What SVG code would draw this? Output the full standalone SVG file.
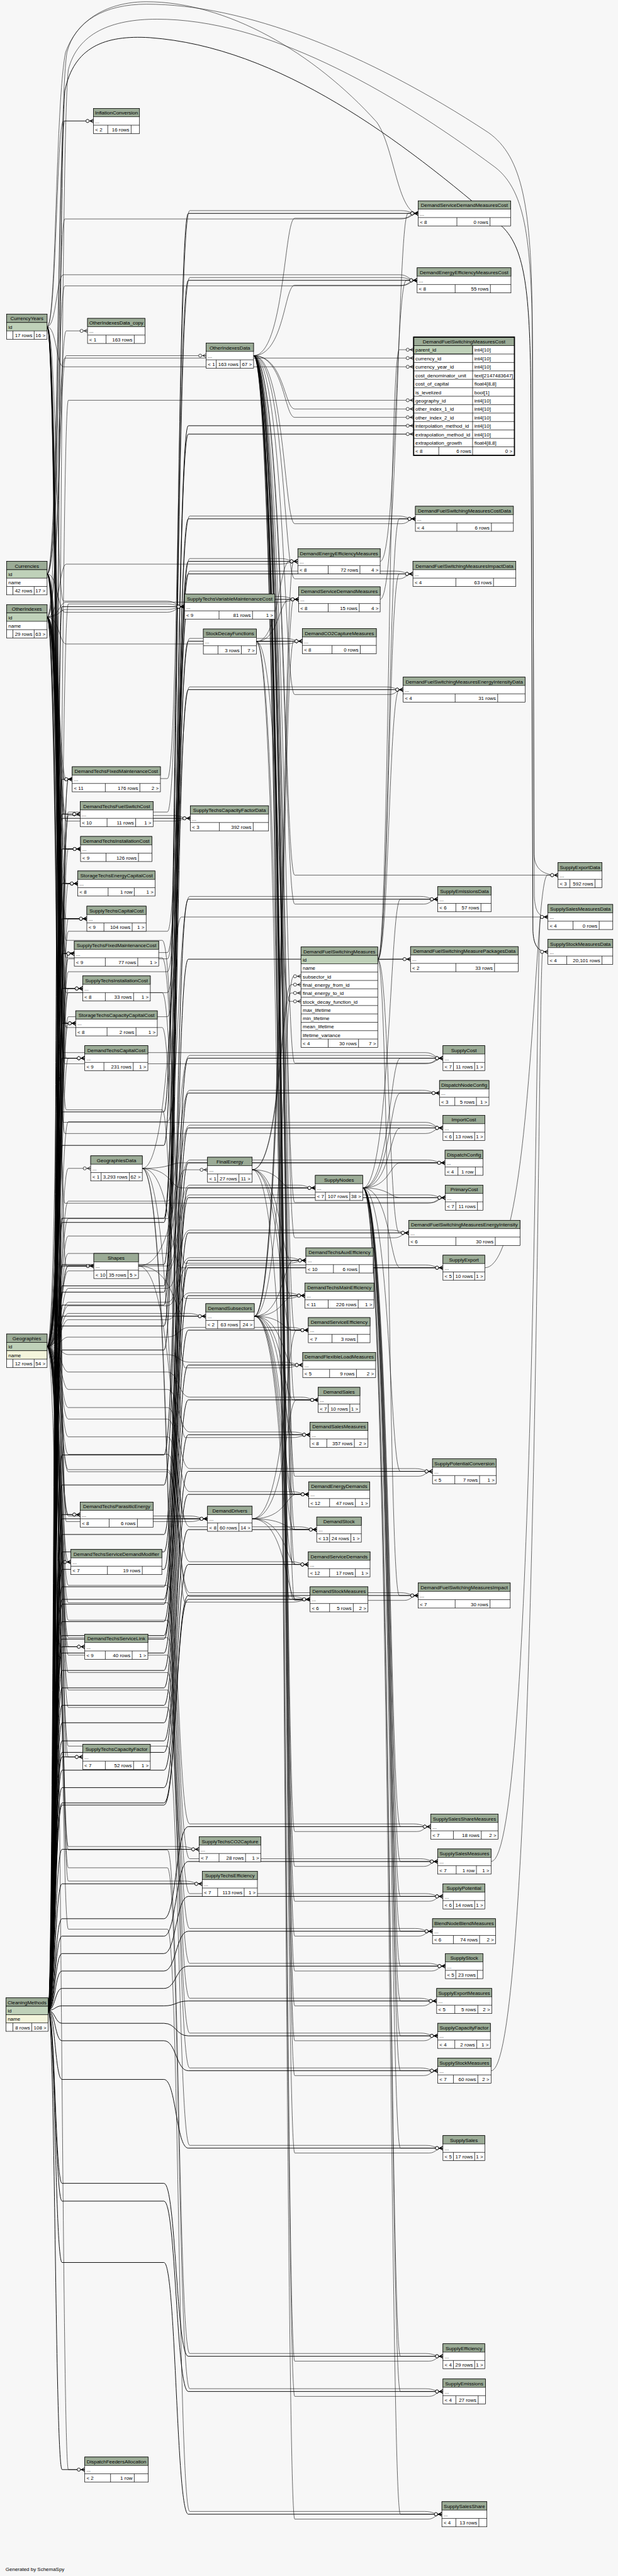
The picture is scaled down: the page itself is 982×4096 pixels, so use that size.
<svg xmlns="http://www.w3.org/2000/svg" width="982" height="4096" viewBox="0 0 982 4096">
<defs>
<style>
.e{fill:none;stroke:#000;stroke-width:1.05;marker-end:url(#cf)}
.e2{stroke-width:1.7}
.b{fill:#fff;stroke:#000;stroke-width:1.3}
.h{fill:#9bab96;stroke:#000;stroke-width:1.3}
.k{fill:#bfd1b9;stroke:#000;stroke-width:1.3}
.y{fill:#f4f5dc;stroke:#000;stroke-width:1.3}
.l{fill:none;stroke:#000;stroke-width:1.3}
text{font-family:"Liberation Sans",Arial,Helvetica,sans-serif;font-size:14.4px;fill:#000}
.c{text-anchor:middle}
.r{text-anchor:end}
</style>
<marker id="cf" markerUnits="userSpaceOnUse" viewBox="0 0 26 16" markerWidth="26" markerHeight="16" refX="26" refY="8" orient="auto" overflow="visible"><path d="M16 8L26 2.5M16 8H26M16 8L26 13.5" fill="none" stroke="#000" stroke-width="1.3"/><circle cx="9" cy="8" r="4.5" fill="#fff" stroke="#000" stroke-width="1.3"/></marker>
</defs>
<rect width="982" height="4096" fill="#f7f7f7"/>
<g transform="scale(0.5542 0.5544)">
<g id="connectors">
<g class="e e2">
<path d="M138 5766C158 5766 158 3189 178 3189H470C505 3189 505 612 540 612H1199"/>
<path d="M138 5766C158 5766 158 3285 178 3285H470C505 3285 505 804 540 804H1196"/>
<path d="M138 5766C158 5766 158 3494 178 3494H470C505 3494 505 1221 540 1221H1186"/>
<path d="M138 5766C158 5766 158 3506 178 3506H470C505 3506 505 1245 540 1245H1186"/>
<path d="M138 5766C158 5766 158 1740 178 1740H529"/>
<path d="M138 5766C158 5766 158 3688 178 3688H470C505 3688 505 1610 540 1610H853"/>
<path d="M138 5766C158 5766 158 3743 178 3743H470C505 3743 505 1719 540 1719H856"/>
<path d="M138 5766C158 5766 158 3803 178 3803H470C505 3803 505 1839 540 1839H867"/>
<path d="M138 5766C158 5766 158 3627 178 3627H470C505 3627 505 1488 540 1488H1191"/>
<path d="M138 5766C158 5766 158 3706 178 3706H470C505 3706 505 1646 540 1646H1184"/>
<path d="M138 5766C158 5766 158 3872 178 3872H470C505 3872 505 1978 540 1978H1156"/>
<path d="M138 5766C158 5766 158 2235 178 2235H207"/>
<path d="M138 5766C158 5766 158 2335 178 2335H230"/>
<path d="M138 5766C158 5766 158 2435 178 2435H231"/>
<path d="M138 5766C158 5766 158 2347 178 2347H546"/>
<path d="M138 5766C158 5766 158 2534 178 2534H223"/>
<path d="M138 5766C158 5766 158 2635 178 2635H249"/>
<path d="M138 5766C158 5766 158 2735 178 2735H213"/>
<path d="M138 5766C158 5766 158 2835 178 2835H237"/>
<path d="M138 5766C158 5766 158 2935 178 2935H217"/>
<path d="M138 5766C158 5766 158 3035 178 3035H243"/>
<path d="M138 5766C158 5766 158 3631 178 3631H269"/>
<path d="M138 5766C158 5766 158 4173 178 4173H470C505 4173 505 2579 540 2579H1255"/>
<path d="M138 5766C158 5766 158 4259 178 4259H470C505 4259 505 2751 540 2751H1177"/>
<path d="M138 5766C158 5766 158 4401 178 4401H470C505 4401 505 3035 540 3035H1270"/>
<path d="M138 5766C158 5766 158 4451 178 4451H470C505 4451 505 3135 540 3135H1260"/>
<path d="M138 5766C158 5766 158 4501 178 4501H470C505 4501 505 3235 540 3235H1270"/>
<path d="M138 5766C158 5766 158 4551 178 4551H470C505 4551 505 3335 540 3335H1276"/>
<path d="M138 5766C158 5766 158 4601 178 4601H470C505 4601 505 3435 540 3435H1277"/>
<path d="M138 5766C158 5766 158 4587 178 4587H470C505 4587 505 3407 540 3407H904"/>
<path d="M138 5766C158 5766 158 4651 178 4651H470C505 4651 505 3536 540 3536H1172"/>
<path d="M138 5766C158 5766 158 4701 178 4701H470C505 4701 505 3636 540 3636H1270"/>
<path d="M138 5766C158 5766 158 4691 178 4691H470C505 4691 505 3615 540 3615H877"/>
<path d="M138 5766C158 5766 158 4741 178 4741H470C505 4741 505 3716 540 3716H874"/>
<path d="M138 5766C158 5766 158 3775 178 3775H590"/>
<path d="M138 5766C158 5766 158 4791 178 4791H470C505 4791 505 3815 540 3815H884"/>
<path d="M138 5766C158 5766 158 4841 178 4841H470C505 4841 505 3915 540 3915H868"/>
<path d="M138 5766C158 5766 158 4891 178 4891H470C505 4891 505 4015 540 4015H912"/>
<path d="M138 5766C158 5766 158 4941 178 4941H470C505 4941 505 4115 540 4115H889"/>
<path d="M138 5766C158 5766 158 4993 178 4993H470C505 4993 505 4220 540 4220H1240"/>
<path d="M138 5766C158 5766 158 5026 178 5026H470C505 5026 505 4286 540 4286H885"/>
<path d="M138 5766C158 5766 158 4344 178 4344H230"/>
<path d="M138 5766C158 5766 158 4356 178 4356H595"/>
<path d="M138 5766C158 5766 158 5077 178 5077H470C505 5077 505 4387 540 4387H908"/>
<path d="M138 5766C158 5766 158 4480 178 4480H203"/>
<path d="M138 5766C158 5766 158 5127 178 5127H470C505 5127 505 4487 540 4487H884"/>
<path d="M138 5766C158 5766 158 5177 178 5177H470C505 5177 505 4587 540 4587H889"/>
<path d="M138 5766C158 5766 158 5171 178 5171H470C505 5171 505 4576 540 4576H1199"/>
<path d="M138 5766C158 5766 158 4723 178 4723H243"/>
<path d="M138 5766C158 5766 158 5039 178 5039H237"/>
<path d="M138 5766C158 5766 158 5503 178 5503H470C505 5503 505 5239 540 5239H1235"/>
<path d="M138 5766C158 5766 158 5304 178 5304H571"/>
<path d="M138 5766C158 5766 158 5553 178 5553H470C505 5553 505 5339 540 5339H1255"/>
<path d="M138 5766C158 5766 158 5403 178 5403H580"/>
<path d="M138 5766C158 5766 158 5603 178 5603H470C505 5603 505 5439 540 5439H1270"/>
<path d="M138 5766C158 5766 158 5653 178 5653H470C505 5653 505 5539 540 5539H1240"/>
<path d="M138 5766C158 5766 158 5703 178 5703H470C505 5703 505 5639 540 5639H1277"/>
<path d="M138 5766C158 5766 158 5753 178 5753H470C505 5753 505 5739 540 5739H1252"/>
<path d="M138 5766C158 5766 158 5803 178 5803H470C505 5803 505 5839 540 5839H1255"/>
<path d="M138 5766C158 5766 158 5853 178 5853H470C505 5853 505 5939 540 5939H1255"/>
<path d="M138 5766C158 5766 158 5964 178 5964H470C505 5964 505 6161 540 6161H1270"/>
<path d="M138 5766C158 5766 158 6262 178 6262H470C505 6262 505 6758 540 6758H1270"/>
<path d="M138 5766C158 5766 158 6313 178 6313H470C505 6313 505 6859 540 6859H1270"/>
<path d="M138 5766C158 5766 158 6489 178 6489H470C505 6489 505 7211 540 7211H1267"/>
<path d="M138 5766C158 5766 158 7083 178 7083H243"/>
<path d="M138 5766C158 5766 160 520 186 260C212 135 300 100 430 108C800 135 1150 400 1440 650C1508 715 1518 850 1522 1100L1528 2670C1530 2715 1545 2730 1571 2730"/>
</g>
<g class="e">
<path d="M135 937C162 937 158 300 188 150C228 40 330 5 420 5C650 5 900 150 1080 350C1130 420 1140 612 1199 612"/>
<path d="M135 937C162 937 162 347 182 347H268"/>
<path d="M135 937C162 937 162 788 182 788H1146C1171 788 1171 804 1196 804"/>
<path d="M135 937C162 937 162 1052 182 1052H1186"/>
<path d="M135 937C162 937 162 1724 182 1724H479C504 1724 504 1740 529 1740"/>
<path d="M135 937C162 937 162 2235 182 2235H207"/>
<path d="M135 937C162 937 162 2335 182 2335H230"/>
<path d="M135 937C162 937 162 2435 182 2435H231"/>
<path d="M135 937C162 937 162 2534 182 2534H223"/>
<path d="M135 937C162 937 162 2635 182 2635H249"/>
<path d="M135 937C162 937 162 2735 182 2735H213"/>
<path d="M135 937C162 937 162 2835 182 2835H237"/>
<path d="M135 937C162 937 162 2935 182 2935H217"/>
<path d="M135 937C162 937 162 3035 182 3035H243"/>
<path d="M135 937C162 937 162 3019 182 3019H1220C1245 3019 1245 3035 1270 3035"/>
<path d="M135 937C162 937 162 3219 182 3219H1220C1245 3219 1245 3235 1270 3235"/>
<path d="M135 1646C166 1646 166 347 186 347H268"/>
<path d="M135 1646C166 1646 166 628 186 628H1149C1174 628 1174 612 1199 612"/>
<path d="M135 1646C166 1646 166 820 186 820H1146C1171 820 1171 804 1196 804"/>
<path d="M135 1646C166 1646 166 1027 186 1027H1186"/>
<path d="M135 1646C166 1646 166 1756 186 1756H479C504 1756 504 1740 529 1740"/>
<path d="M135 1646C166 1646 166 2235 186 2235H207"/>
<path d="M135 1646C166 1646 166 2335 186 2335H230"/>
<path d="M135 1646C166 1646 166 2435 186 2435H231"/>
<path d="M135 1646C166 1646 166 2534 186 2534H223"/>
<path d="M135 1646C166 1646 166 2635 186 2635H249"/>
<path d="M135 1646C166 1646 166 2735 186 2735H213"/>
<path d="M135 1646C166 1646 166 2835 186 2835H237"/>
<path d="M135 1646C166 1646 166 2935 186 2935H217"/>
<path d="M135 1646C166 1646 166 3035 186 3035H243"/>
<path d="M135 1646C166 1646 166 3051 186 3051H1220C1245 3051 1245 3035 1270 3035"/>
<path d="M135 1646C166 1646 166 3251 186 3251H1220C1245 3251 1245 3235 1270 3235"/>
<path d="M135 1646C166 1646 166 3451 186 3451H1227C1252 3451 1252 3435 1277 3435"/>
<path d="M135 1770C170 1770 170 949 190 949H251"/>
<path d="M135 1770C170 1770 170 1020 190 1020H591"/>
<path d="M135 1770C170 1770 170 1748 190 1748H479C504 1748 504 1740 529 1740"/>
<path d="M135 1770C170 1770 170 1618 190 1618H803C828 1618 828 1610 853 1610"/>
<path d="M135 1770C170 1770 170 1727 190 1727H806C831 1727 831 1719 856 1719"/>
<path d="M135 1770C170 1770 170 1847 190 1847H817C842 1847 842 1839 867 1839"/>
<path d="M135 1770C170 1770 170 2235 190 2235H207"/>
<path d="M135 1770C170 1770 170 2335 190 2335H230"/>
<path d="M135 1770C170 1770 170 2435 190 2435H231"/>
<path d="M135 1770C170 1770 170 2355 190 2355H496C521 2355 521 2347 546 2347"/>
<path d="M135 1770C170 1770 170 2534 190 2534H223"/>
<path d="M135 1770C170 1770 170 2635 190 2635H249"/>
<path d="M135 1770C170 1770 170 2735 190 2735H213"/>
<path d="M135 1770C170 1770 170 2835 190 2835H237"/>
<path d="M135 1770C170 1770 170 2935 190 2935H217"/>
<path d="M135 1770C170 1770 170 3035 190 3035H243"/>
<path d="M135 1770C170 1770 170 3631 190 3631H269"/>
<path d="M135 1770C170 1770 170 2697 190 2697H465C498 2697 498 3623 531 3623H827C852 3623 852 3615 877 3615"/>
<path d="M135 1770C170 1770 170 2747 190 2747H465C498 2747 498 3724 531 3724H824C849 3724 849 3716 874 3716"/>
<path d="M135 1770C170 1770 170 2847 190 2847H465C498 2847 498 3923 531 3923H818C843 3923 843 3915 868 3915"/>
<path d="M135 1770C170 1770 170 2947 190 2947H465C498 2947 498 4123 531 4123H839C864 4123 864 4115 889 4115"/>
<path d="M135 1770C170 1770 170 4344 190 4344H230"/>
<path d="M135 1770C170 1770 170 4364 190 4364H545C570 4364 570 4356 595 4356"/>
<path d="M135 1770C170 1770 170 4480 190 4480H203"/>
<path d="M135 1770C170 1770 170 3183 190 3183H465C498 3183 498 4595 531 4595H839C864 4595 864 4587 889 4587"/>
<path d="M135 1770C170 1770 170 4723 190 4723H243"/>
<path d="M135 1770C170 1770 170 5039 190 5039H237"/>
<path d="M135 1770C170 1770 164 320 192 150C215 60 300 12 420 12C700 12 1050 150 1400 380C1500 450 1522 600 1526 900L1532 2570C1534 2615 1545 2630 1571 2630"/>
<path d="M135 3862C176 3862 176 2233 196 2233H480C512 2233 512 604 544 604H1149C1174 604 1174 612 1199 612"/>
<path d="M135 3862C176 3862 176 2329 196 2329H480C512 2329 512 796 544 796H1146C1171 796 1171 804 1196 804"/>
<path d="M135 3862C176 3862 176 1148 196 1148H1186"/>
<path d="M135 3862C176 3862 176 1732 196 1732H479C504 1732 504 1740 529 1740"/>
<path d="M135 3862C176 3862 176 2732 196 2732H480C512 2732 512 1602 544 1602H803C828 1602 828 1610 853 1610"/>
<path d="M135 3862C176 3862 176 2787 196 2787H480C512 2787 512 1711 544 1711H806C831 1711 831 1719 856 1719"/>
<path d="M135 3862C176 3862 176 2847 196 2847H480C512 2847 512 1831 544 1831H817C842 1831 842 1839 867 1839"/>
<path d="M135 3862C176 3862 176 2671 196 2671H480C512 2671 512 1480 544 1480H1141C1166 1480 1166 1488 1191 1488"/>
<path d="M135 3862C176 3862 176 2750 196 2750H480C512 2750 512 1638 544 1638H1134C1159 1638 1159 1646 1184 1646"/>
<path d="M135 3862C176 3862 176 2916 196 2916H480C512 2916 512 1970 544 1970H1106C1131 1970 1131 1978 1156 1978"/>
<path d="M135 3862C176 3862 176 2235 196 2235H207"/>
<path d="M135 3862C176 3862 176 2335 196 2335H230"/>
<path d="M135 3862C176 3862 176 2435 196 2435H231"/>
<path d="M135 3862C176 3862 176 2339 196 2339H496C521 2339 521 2347 546 2347"/>
<path d="M135 3862C176 3862 176 2534 196 2534H223"/>
<path d="M135 3862C176 3862 176 2635 196 2635H249"/>
<path d="M135 3862C176 3862 176 2735 196 2735H213"/>
<path d="M135 3862C176 3862 176 2835 196 2835H237"/>
<path d="M135 3862C176 3862 176 2935 196 2935H217"/>
<path d="M135 3862C176 3862 176 3035 196 3035H243"/>
<path d="M135 3862C176 3862 176 3351 196 3351H260"/>
<path d="M135 3862C176 3862 176 3631 196 3631H269"/>
<path d="M135 3862C176 3862 176 3217 196 3217H480C512 3217 512 2571 544 2571H1205C1230 2571 1230 2579 1255 2579"/>
<path d="M135 3862C176 3862 176 3445 196 3445H480C512 3445 512 3027 544 3027H1220C1245 3027 1245 3035 1270 3035"/>
<path d="M135 3862C176 3862 176 3495 196 3495H480C512 3495 512 3127 544 3127H1210C1235 3127 1235 3135 1260 3135"/>
<path d="M135 3862C176 3862 176 3545 196 3545H480C512 3545 512 3227 544 3227H1220C1245 3227 1245 3235 1270 3235"/>
<path d="M135 3862C176 3862 176 3595 196 3595H480C512 3595 512 3327 544 3327H1226C1251 3327 1251 3335 1276 3335"/>
<path d="M135 3862C176 3862 176 3645 196 3645H480C512 3645 512 3427 544 3427H1227C1252 3427 1252 3435 1277 3435"/>
<path d="M135 3862C176 3862 176 3631 196 3631H480C512 3631 512 3399 544 3399H854C879 3399 879 3407 904 3407"/>
<path d="M135 3862C176 3862 176 3695 196 3695H480C512 3695 512 3528 544 3528H1122C1147 3528 1147 3536 1172 3536"/>
<path d="M135 3862C176 3862 176 3745 196 3745H480C512 3745 512 3628 544 3628H1220C1245 3628 1245 3636 1270 3636"/>
<path d="M135 3862C176 3862 176 3735 196 3735H480C512 3735 512 3607 544 3607H827C852 3607 852 3615 877 3615"/>
<path d="M135 3862C176 3862 176 3785 196 3785H480C512 3785 512 3708 544 3708H824C849 3708 849 3716 874 3716"/>
<path d="M135 3862C176 3862 176 3767 196 3767H540C565 3767 565 3775 590 3775"/>
<path d="M135 3862C176 3862 176 3835 196 3835H480C512 3835 512 3807 544 3807H834C859 3807 859 3815 884 3815"/>
<path d="M135 3862C176 3862 176 3885 196 3885H480C512 3885 512 3907 544 3907H818C843 3907 843 3915 868 3915"/>
<path d="M135 3862C176 3862 176 3935 196 3935H480C512 3935 512 4007 544 4007H862C887 4007 887 4015 912 4015"/>
<path d="M135 3862C176 3862 176 3985 196 3985H480C512 3985 512 4107 544 4107H839C864 4107 864 4115 889 4115"/>
<path d="M135 3862C176 3862 176 4037 196 4037H480C512 4037 512 4212 544 4212H1190C1215 4212 1215 4220 1240 4220"/>
<path d="M135 3862C176 3862 176 4070 196 4070H480C512 4070 512 4278 544 4278H835C860 4278 860 4286 885 4286"/>
<path d="M135 3862C176 3862 176 4344 196 4344H230"/>
<path d="M135 3862C176 3862 176 4348 196 4348H545C570 4348 570 4356 595 4356"/>
<path d="M135 3862C176 3862 176 4121 196 4121H480C512 4121 512 4379 544 4379H858C883 4379 883 4387 908 4387"/>
<path d="M135 3862C176 3862 176 4480 196 4480H203"/>
<path d="M135 3862C176 3862 176 4171 196 4171H480C512 4171 512 4479 544 4479H834C859 4479 859 4487 884 4487"/>
<path d="M135 3862C176 3862 176 4221 196 4221H480C512 4221 512 4579 544 4579H839C864 4579 864 4587 889 4587"/>
<path d="M135 3862C176 3862 176 4215 196 4215H480C512 4215 512 4568 544 4568H1149C1174 4568 1174 4576 1199 4576"/>
<path d="M135 3862C176 3862 176 4723 196 4723H243"/>
<path d="M135 3862C176 3862 176 5039 196 5039H237"/>
<path d="M135 3862C176 3862 176 4547 196 4547H480C512 4547 512 5231 544 5231H1185C1210 5231 1210 5239 1235 5239"/>
<path d="M135 3862C176 3862 176 5296 196 5296H521C546 5296 546 5304 571 5304"/>
<path d="M135 3862C176 3862 176 4597 196 4597H480C512 4597 512 5331 544 5331H1205C1230 5331 1230 5339 1255 5339"/>
<path d="M135 3862C176 3862 176 5395 196 5395H530C555 5395 555 5403 580 5403"/>
<path d="M135 3862C176 3862 176 4647 196 4647H480C512 4647 512 5431 544 5431H1220C1245 5431 1245 5439 1270 5439"/>
<path d="M135 3862C176 3862 176 4697 196 4697H480C512 4697 512 5531 544 5531H1190C1215 5531 1215 5539 1240 5539"/>
<path d="M135 3862C176 3862 176 4747 196 4747H480C512 4747 512 5631 544 5631H1227C1252 5631 1252 5639 1277 5639"/>
<path d="M135 3862C176 3862 176 4797 196 4797H480C512 4797 512 5731 544 5731H1202C1227 5731 1227 5739 1252 5739"/>
<path d="M135 3862C176 3862 176 4847 196 4847H480C512 4847 512 5831 544 5831H1205C1230 5831 1230 5839 1255 5839"/>
<path d="M135 3862C176 3862 176 4897 196 4897H480C512 4897 512 5931 544 5931H1205C1230 5931 1230 5939 1255 5939"/>
<path d="M135 3862C176 3862 176 5008 196 5008H480C512 5008 512 6153 544 6153H1220C1245 6153 1245 6161 1270 6161"/>
<path d="M135 3862C176 3862 176 5306 196 5306H480C512 5306 512 6750 544 6750H1220C1245 6750 1245 6758 1270 6758"/>
<path d="M135 3862C176 3862 176 5357 196 5357H480C512 5357 512 6851 544 6851H1220C1245 6851 1245 6859 1270 6859"/>
<path d="M135 3862C176 3862 176 5533 196 5533H480C512 5533 512 7203 544 7203H1217C1242 7203 1242 7211 1267 7211"/>
<path d="M135 3862C176 3862 176 7083 196 7083H243"/>
<path d="M135 3862C176 3862 168 420 196 200C222 95 320 55 450 55C760 55 1110 250 1420 480C1510 550 1524 700 1527 1000L1531 2450C1533 2495 1560 2510 1600 2510"/>
<path d="M727 1020C815 1020 815 626 845 626H1159C1179 626 1179 612 1199 612"/>
<path d="M727 1020C815 1020 815 818 845 818H1156C1176 818 1176 804 1196 804"/>
<path d="M727 1020C815 1020 815 1173 845 1173H1186"/>
<path d="M727 1020C815 1020 815 1197 845 1197H1186"/>
<path d="M727 1020C815 1020 815 1502 845 1502H1151C1171 1502 1171 1488 1191 1488"/>
<path d="M727 1020C815 1020 815 1660 845 1660H1144C1164 1660 1164 1646 1184 1646"/>
<path d="M727 1020C815 1020 815 1992 845 1992H1116C1136 1992 1136 1978 1156 1978"/>
<path d="M727 1020C815 1020 815 2593 845 2593H1215C1235 2593 1235 2579 1255 2579"/>
<path d="M727 1020C815 1020 815 3049 845 3049H1230C1250 3049 1250 3035 1270 3035"/>
<path d="M727 1020C815 1020 815 3449 845 3449H1237C1257 3449 1257 3435 1277 3435"/>
<path d="M727 1020C815 1020 815 3550 845 3550H1132C1152 3550 1152 3536 1172 3536"/>
<path d="M727 1020C815 1020 815 3815 845 3815H884"/>
<path d="M727 1020C815 1020 815 4015 845 4015H912"/>
<path d="M727 1020C815 1020 815 4234 845 4234H1200C1220 4234 1220 4220 1240 4220"/>
<path d="M727 1020C815 1020 815 4286 845 4286H885"/>
<path d="M727 1020C815 1020 815 4387 845 4387H908"/>
<path d="M727 1020C815 1020 815 4487 845 4487H884"/>
<path d="M727 1020C815 1020 815 4590 845 4590H1159C1179 4590 1179 4576 1199 4576"/>
<path d="M727 1020C815 1020 815 5253 845 5253H1195C1215 5253 1215 5239 1235 5239"/>
<path d="M727 1020C815 1020 815 5353 845 5353H1215C1235 5353 1235 5339 1255 5339"/>
<path d="M727 1020C815 1020 815 5453 845 5453H1230C1250 5453 1250 5439 1270 5439"/>
<path d="M727 1020C815 1020 815 5553 845 5553H1200C1220 5553 1220 5539 1240 5539"/>
<path d="M727 1020C815 1020 815 5653 845 5653H1237C1257 5653 1257 5639 1277 5639"/>
<path d="M727 1020C815 1020 815 5753 845 5753H1212C1232 5753 1232 5739 1252 5739"/>
<path d="M727 1020C815 1020 815 5853 845 5853H1215C1235 5853 1235 5839 1255 5839"/>
<path d="M727 1020C815 1020 815 5953 845 5953H1215C1235 5953 1235 5939 1255 5939"/>
<path d="M727 1020C815 1020 815 6175 845 6175H1230C1250 6175 1250 6161 1270 6161"/>
<path d="M727 1020C815 1020 815 6772 845 6772H1230C1250 6772 1250 6758 1270 6758"/>
<path d="M727 1020C815 1020 815 6873 845 6873H1230C1250 6873 1250 6859 1270 6859"/>
<path d="M727 1020C815 1020 815 7225 845 7225H1227C1247 7225 1247 7211 1267 7211"/>
<path d="M727 1020C815 1020 815 2510 845 2510H1600"/>
<path d="M408 3351C490 3351 490 3407 520 3407H904"/>
<path d="M408 3351C490 3351 490 3335 520 3335H1276"/>
<path d="M408 3351C490 3351 490 3636 520 3636H1270"/>
<path d="M408 3351C490 3351 490 4356 520 4356H595"/>
<path d="M408 3351C490 3351 490 5304 520 5304H571"/>
<path d="M408 3351C490 3351 490 5403 520 5403H580"/>
<path d="M408 3351C490 3351 490 2630 520 2630H1571"/>
<path d="M723 3355C805 3355 805 2824 835 2824H863"/>
<path d="M723 3355C805 3355 805 2848 835 2848H863"/>
<path d="M723 3355C805 3355 805 3407 835 3407H904"/>
<path d="M723 3355C805 3355 805 3615 835 3615H877"/>
<path d="M723 3355C805 3355 805 3716 835 3716H874"/>
<path d="M723 3355C805 3355 805 3815 835 3815H884"/>
<path d="M723 3355C805 3355 805 4286 835 4286H885"/>
<path d="M397 3631C500 3631 500 3355 530 3355H595"/>
<path d="M397 3631C500 3631 500 3775 530 3775H590"/>
<path d="M397 3631C500 3631 500 4356 530 4356H595"/>
<path d="M735 1840C800 1840 800 1610 830 1610H853"/>
<path d="M735 1840C800 1840 800 1719 830 1719H856"/>
<path d="M735 1840C800 1840 800 1839 830 1839H867"/>
<path d="M735 1840C800 1840 800 2872 830 2872H863"/>
<path d="M735 1840C800 1840 800 4115 830 4115H889"/>
<path d="M735 1840C800 1840 800 4587 830 4587H889"/>
<path d="M729 3775C812 3775 812 2800 842 2800H863"/>
<path d="M729 3775C812 3775 812 1610 842 1610H853"/>
<path d="M729 3775C812 3775 812 1719 842 1719H856"/>
<path d="M729 3775C812 3775 812 1839 842 1839H867"/>
<path d="M729 3775C812 3775 812 3716 842 3716H874"/>
<path d="M729 3775C812 3775 812 3615 842 3615H877"/>
<path d="M729 3775C812 3775 812 3815 842 3815H884"/>
<path d="M729 3775C812 3775 812 3915 842 3915H868"/>
<path d="M729 3775C812 3775 812 4015 842 4015H912"/>
<path d="M729 3775C812 3775 812 4115 842 4115H889"/>
<path d="M729 3775C812 3775 812 4286 842 4286H885"/>
<path d="M729 3775C812 3775 812 4387 842 4387H908"/>
<path d="M729 3775C812 3775 812 4487 842 4487H884"/>
<path d="M729 3775C812 3775 812 4587 842 4587H889"/>
<path d="M723 4356C820 4356 820 4286 850 4286H885"/>
<path d="M723 4356C820 4356 820 4387 850 4387H908"/>
<path d="M723 4356C820 4356 820 4487 850 4487H884"/>
<path d="M723 4356C820 4356 820 4587 850 4587H889"/>
<path d="M723 4356C820 4356 820 4015 850 4015H912"/>
<path d="M723 4356C820 4356 820 3815 850 3815H884"/>
<path d="M1040 3407C1118 3407 1118 2579 1148 2579H1255"/>
<path d="M1040 3407C1118 3407 1118 3035 1148 3035H1270"/>
<path d="M1040 3407C1118 3407 1118 3135 1148 3135H1260"/>
<path d="M1040 3407C1118 3407 1118 3235 1148 3235H1270"/>
<path d="M1040 3407C1118 3407 1118 3335 1148 3335H1276"/>
<path d="M1040 3407C1118 3407 1118 3435 1148 3435H1277"/>
<path d="M1040 3407C1118 3407 1118 3636 1148 3636H1270"/>
<path d="M1040 3407C1118 3407 1118 4220 1148 4220H1240"/>
<path d="M1040 3407C1118 3407 1118 5239 1148 5239H1235"/>
<path d="M1040 3407C1118 3407 1118 5339 1148 5339H1255"/>
<path d="M1040 3407C1118 3407 1118 5439 1148 5439H1270"/>
<path d="M1040 3407C1118 3407 1118 5539 1148 5539H1240"/>
<path d="M1040 3407C1118 3407 1118 5639 1148 5639H1277"/>
<path d="M1040 3407C1118 3407 1118 5739 1148 5739H1252"/>
<path d="M1040 3407C1118 3407 1118 5839 1148 5839H1255"/>
<path d="M1040 3407C1118 3407 1118 5939 1148 5939H1255"/>
<path d="M1040 3407C1118 3407 1118 6161 1148 6161H1270"/>
<path d="M1040 3407C1118 3407 1118 6758 1148 6758H1270"/>
<path d="M1040 3407C1118 3407 1118 6859 1148 6859H1270"/>
<path d="M1040 3407C1118 3407 1118 7211 1148 7211H1267"/>
<path d="M1083 2752C1115 2752 1115 1003 1145 1003H1186"/>
<path d="M1083 2752C1115 2752 1115 1488 1145 1488H1191"/>
<path d="M1083 2752C1115 2752 1115 1646 1145 1646H1184"/>
<path d="M1083 2752C1115 2752 1115 1978 1145 1978H1156"/>
<path d="M1083 2752C1115 2752 1115 2751 1145 2751H1177"/>
<path d="M1083 2752C1115 2752 1115 3536 1145 3536H1172"/>
<path d="M1083 2752C1115 2752 1115 4576 1145 4576H1199"/>
<path d="M1090 1719C1140 1719 1140 612 1170 612H1199"/>
<path d="M1090 1610C1135 1610 1135 804 1165 804H1196"/>
<path d="M1390 3636C1530 3636 1530 2510 1570 2510H1600"/>
<path d="M1408 5339C1536 5339 1536 2630 1550 2630H1571"/>
<path d="M1408 5939C1542 5939 1542 2730 1556 2730H1571"/>
</g>
</g>
<g id="nodes">
<g id="InflationConversion"><rect class="b" x="268" y="311" width="132" height="72"/><rect class="h" x="268" y="311" width="132" height="24"/><path class="l" d="M268 359h132M309 359v24M376 359v24"/><text class="c" x="334" y="329">InflationConversion</text><text x="273" y="353">...</text><text x="273" y="377">&lt; 2</text><text class="r" x="371" y="377">16 rows</text></g>
<g id="CurrencyYears"><rect class="b" x="19" y="901" width="116" height="72"/><rect class="h" x="19" y="901" width="116" height="24"/><rect class="k" x="19" y="925" width="116" height="24"/><path class="l" d="M37 949v24M98 949v24"/><text class="c" x="77" y="919">CurrencyYears</text><text x="24" y="943">id</text><text class="r" x="93" y="967">17 rows</text><text class="r" x="130" y="967">16 &gt;</text></g>
<g id="OtherIndexesData_copy"><rect class="b" x="251" y="913" width="165" height="72"/><rect class="h" x="251" y="913" width="165" height="24"/><path class="l" d="M251 961h165M304 961v24M385 961v24"/><text class="c" x="333.5" y="931">OtherIndexesData_copy</text><text x="256" y="955">...</text><text x="256" y="979">&lt; 1</text><text class="r" x="380" y="979">163 rows</text></g>
<g id="OtherIndexesData"><rect class="b" x="591" y="984" width="136" height="72"/><rect class="h" x="591" y="984" width="136" height="24"/><path class="l" d="M591 1032h136M620 1032v24M689 1032v24"/><text class="c" x="659" y="1002">OtherIndexesData</text><text x="596" y="1026">...</text><text x="596" y="1050">&lt; 1</text><text class="r" x="684" y="1050">163 rows</text><text class="r" x="722" y="1050">67 &gt;</text></g>
<g id="DemandServiceDemandMeasuresCost"><rect class="b" x="1199" y="576" width="265" height="72"/><rect class="h" x="1199" y="576" width="265" height="24"/><path class="l" d="M1199 624h265M1310 624v24M1405 624v24"/><text class="c" x="1331.5" y="594">DemandServiceDemandMeasuresCost</text><text x="1204" y="618">...</text><text x="1204" y="642">&lt; 8</text><text class="r" x="1400" y="642">0 rows</text></g>
<g id="DemandEnergyEfficiencyMeasuresCost"><rect class="b" x="1196" y="768" width="269" height="72"/><rect class="h" x="1196" y="768" width="269" height="24"/><path class="l" d="M1196 816h269M1305 816v24M1406 816v24"/><text class="c" x="1330.5" y="786">DemandEnergyEfficiencyMeasuresCost</text><text x="1201" y="810">...</text><text x="1201" y="834">&lt; 8</text><text class="r" x="1401" y="834">55 rows</text></g>
<g id="DemandFuelSwitchingMeasuresCost"><rect class="b" x="1186" y="967" width="289" height="339"/><rect class="h" x="1186" y="967" width="289" height="24.2"/><rect class="k" x="1186" y="991.2" width="169" height="24.2"/><path class="l" d="M1186 1015.4h289M1186 1039.6h289M1186 1063.8h289M1186 1088h289M1186 1112.2h289M1186 1136.4h289M1186 1160.6h289M1186 1184.8h289M1186 1209h289M1186 1233.2h289M1186 1257.4h289M1186 1281.6h289M1355 991.2V1306M1258 1281.6v24.4"/><rect x="1186" y="967" width="289" height="339" fill="none" stroke="#000" stroke-width="3.2"/><text class="c" x="1330.5" y="985">DemandFuelSwitchingMeasuresCost</text><text x="1191" y="1009.2">parent_id</text><text x="1360" y="1009.2">int4[10]</text><text x="1191" y="1033.4">currency_id</text><text x="1360" y="1033.4">int4[10]</text><text x="1191" y="1057.6">currency_year_id</text><text x="1360" y="1057.6">int4[10]</text><text x="1191" y="1081.8">cost_denominator_unit</text><text x="1360" y="1081.8">text[2147483647]</text><text x="1191" y="1106">cost_of_capital</text><text x="1360" y="1106">float4[8,8]</text><text x="1191" y="1130.2">is_levelized</text><text x="1360" y="1130.2">bool[1]</text><text x="1191" y="1154.4">geography_id</text><text x="1360" y="1154.4">int4[10]</text><text x="1191" y="1178.6">other_index_1_id</text><text x="1360" y="1178.6">int4[10]</text><text x="1191" y="1202.8">other_index_2_id</text><text x="1360" y="1202.8">int4[10]</text><text x="1191" y="1227">interpolation_method_id</text><text x="1360" y="1227">int4[10]</text><text x="1191" y="1251.2">extrapolation_method_id</text><text x="1360" y="1251.2">int4[10]</text><text x="1191" y="1275.4">extrapolation_growth</text><text x="1360" y="1275.4">float4[8,8]</text><text x="1191" y="1299.6">&lt; 8</text><text class="r" x="1351" y="1299.6">6 rows</text><text class="r" x="1469" y="1299.6">0 &gt;</text></g>
<g id="Currencies"><rect class="b" x="19" y="1610" width="116" height="96"/><rect class="h" x="19" y="1610" width="116" height="24"/><rect class="k" x="19" y="1634" width="116" height="24"/><path class="l" d="M19 1682h116M37 1682v24M98 1682v24"/><text class="c" x="77" y="1628">Currencies</text><text x="24" y="1652">id</text><text x="24" y="1676">name</text><text class="r" x="93" y="1700">42 rows</text><text class="r" x="130" y="1700">17 &gt;</text></g>
<g id="OtherIndexes"><rect class="b" x="19" y="1734" width="116" height="96"/><rect class="h" x="19" y="1734" width="116" height="24"/><rect class="k" x="19" y="1758" width="116" height="24"/><path class="l" d="M19 1806h116M37 1806v24M98 1806v24"/><text class="c" x="77" y="1752">OtherIndexes</text><text x="24" y="1776">id</text><text x="24" y="1800">name</text><text class="r" x="93" y="1824">29 rows</text><text class="r" x="130" y="1824">63 &gt;</text></g>
<g id="SupplyTechsVariableMaintenanceCost"><rect class="b" x="529" y="1704" width="259" height="72"/><rect class="h" x="529" y="1704" width="259" height="24"/><path class="l" d="M529 1752h259M628 1752v24M724 1752v24"/><text class="c" x="658.5" y="1722">SupplyTechsVariableMaintenanceCost</text><text x="534" y="1746">...</text><text x="534" y="1770">&lt; 9</text><text class="r" x="719" y="1770">81 rows</text><text class="r" x="783" y="1770">1 &gt;</text></g>
<g id="StockDecayFunctions"><rect class="b" x="583" y="1804" width="152" height="72"/><rect class="h" x="583" y="1804" width="152" height="24"/><path class="l" d="M583 1852h152M625 1852v24M692 1852v24"/><text class="c" x="659" y="1822">StockDecayFunctions</text><text x="588" y="1846">...</text><text class="r" x="687" y="1870">3 rows</text><text class="r" x="730" y="1870">7 &gt;</text></g>
<g id="DemandEnergyEfficiencyMeasures"><rect class="b" x="854" y="1574" width="236" height="72"/><rect class="h" x="854" y="1574" width="236" height="24"/><path class="l" d="M854 1622h236M941 1622v24M1032 1622v24"/><text class="c" x="972" y="1592">DemandEnergyEfficiencyMeasures</text><text x="859" y="1616">...</text><text x="859" y="1640">&lt; 8</text><text class="r" x="1027" y="1640">72 rows</text><text class="r" x="1085" y="1640">4 &gt;</text></g>
<g id="DemandServiceDemandMeasures"><rect class="b" x="856" y="1683" width="234" height="72"/><rect class="h" x="856" y="1683" width="234" height="24"/><path class="l" d="M856 1731h234M941 1731v24M1030 1731v24"/><text class="c" x="973" y="1701">DemandServiceDemandMeasures</text><text x="861" y="1725">...</text><text x="861" y="1749">&lt; 8</text><text class="r" x="1025" y="1749">15 rows</text><text class="r" x="1085" y="1749">4 &gt;</text></g>
<g id="DemandCO2CaptureMeasures"><rect class="b" x="867" y="1803" width="212" height="72"/><rect class="h" x="867" y="1803" width="212" height="24"/><path class="l" d="M867 1851h212M952 1851v24M1033 1851v24"/><text class="c" x="973" y="1821">DemandCO2CaptureMeasures</text><text x="872" y="1845">...</text><text x="872" y="1869">&lt; 8</text><text class="r" x="1028" y="1869">0 rows</text></g>
<g id="DemandFuelSwitchingMeasuresCostData"><rect class="b" x="1191" y="1452" width="281" height="72"/><rect class="h" x="1191" y="1452" width="281" height="24"/><path class="l" d="M1191 1500h281M1310 1500v24M1409 1500v24"/><text class="c" x="1331.5" y="1470">DemandFuelSwitchingMeasuresCostData</text><text x="1196" y="1494">...</text><text x="1196" y="1518">&lt; 4</text><text class="r" x="1404" y="1518">6 rows</text></g>
<g id="DemandFuelSwitchingMeasuresImpactData"><rect class="b" x="1184" y="1610" width="295" height="72"/><rect class="h" x="1184" y="1610" width="295" height="24"/><path class="l" d="M1184 1658h295M1307 1658v24M1415 1658v24"/><text class="c" x="1331.5" y="1628">DemandFuelSwitchingMeasuresImpactData</text><text x="1189" y="1652">...</text><text x="1189" y="1676">&lt; 4</text><text class="r" x="1410" y="1676">63 rows</text></g>
<g id="DemandFuelSwitchingMeasuresEnergyIntensityData"><rect class="b" x="1156" y="1942" width="350" height="72"/><rect class="h" x="1156" y="1942" width="350" height="24"/><path class="l" d="M1156 1990h350M1305 1990v24M1427 1990v24"/><text class="c" x="1331" y="1960">DemandFuelSwitchingMeasuresEnergyIntensityData</text><text x="1161" y="1984">...</text><text x="1161" y="2008">&lt; 4</text><text class="r" x="1422" y="2008">31 rows</text></g>
<g id="DemandTechsFixedMaintenanceCost"><rect class="b" x="207" y="2199" width="253" height="72"/><rect class="h" x="207" y="2199" width="253" height="24"/><path class="l" d="M207 2247h253M302 2247v24M401 2247v24"/><text class="c" x="333.5" y="2217">DemandTechsFixedMaintenanceCost</text><text x="212" y="2241">...</text><text x="212" y="2265">&lt; 11</text><text class="r" x="396" y="2265">176 rows</text><text class="r" x="455" y="2265">2 &gt;</text></g>
<g id="DemandTechsFuelSwitchCost"><rect class="b" x="230" y="2299" width="209" height="72"/><rect class="h" x="230" y="2299" width="209" height="24"/><path class="l" d="M230 2347h209M307 2347v24M389 2347v24"/><text class="c" x="334.5" y="2317">DemandTechsFuelSwitchCost</text><text x="235" y="2341">...</text><text x="235" y="2365">&lt; 10</text><text class="r" x="384" y="2365">11 rows</text><text class="r" x="434" y="2365">1 &gt;</text></g>
<g id="DemandTechsInstallationCost"><rect class="b" x="231" y="2399" width="205" height="72"/><rect class="h" x="231" y="2399" width="205" height="24"/><path class="l" d="M231 2447h205M304 2447v24M397 2447v24"/><text class="c" x="333.5" y="2417">DemandTechsInstallationCost</text><text x="236" y="2441">...</text><text x="236" y="2465">&lt; 9</text><text class="r" x="392" y="2465">126 rows</text></g>
<g id="SupplyTechsCapacityFactorData"><rect class="b" x="546" y="2311" width="224" height="72"/><rect class="h" x="546" y="2311" width="224" height="24"/><path class="l" d="M546 2359h224M629 2359v24M726 2359v24"/><text class="c" x="658" y="2329">SupplyTechsCapacityFactorData</text><text x="551" y="2353">...</text><text x="551" y="2377">&lt; 3</text><text class="r" x="721" y="2377">392 rows</text></g>
<g id="StorageTechsEnergyCapitalCost"><rect class="b" x="223" y="2498" width="222" height="72"/><rect class="h" x="223" y="2498" width="222" height="24"/><path class="l" d="M223 2546h222M310 2546v24M385 2546v24"/><text class="c" x="334" y="2516">StorageTechsEnergyCapitalCost</text><text x="228" y="2540">...</text><text x="228" y="2564">&lt; 8</text><text class="r" x="380" y="2564">1 row</text><text class="r" x="440" y="2564">1 &gt;</text></g>
<g id="SupplyTechsCapitalCost"><rect class="b" x="249" y="2599" width="170" height="72"/><rect class="h" x="249" y="2599" width="170" height="24"/><path class="l" d="M249 2647h170M298 2647v24M379 2647v24"/><text class="c" x="334" y="2617">SupplyTechsCapitalCost</text><text x="254" y="2641">...</text><text x="254" y="2665">&lt; 9</text><text class="r" x="374" y="2665">104 rows</text><text class="r" x="414" y="2665">1 &gt;</text></g>
<g id="SupplyTechsFixedMaintenanceCost"><rect class="b" x="213" y="2699" width="242" height="72"/><rect class="h" x="213" y="2699" width="242" height="24"/><path class="l" d="M213 2747h242M302 2747v24M395 2747v24"/><text class="c" x="334" y="2717">SupplyTechsFixedMaintenanceCost</text><text x="218" y="2741">...</text><text x="218" y="2765">&lt; 9</text><text class="r" x="390" y="2765">77 rows</text><text class="r" x="450" y="2765">1 &gt;</text></g>
<g id="SupplyTechsInstallationCost"><rect class="b" x="237" y="2799" width="194" height="72"/><rect class="h" x="237" y="2799" width="194" height="24"/><path class="l" d="M237 2847h194M302 2847v24M383 2847v24"/><text class="c" x="334" y="2817">SupplyTechsInstallationCost</text><text x="242" y="2841">...</text><text x="242" y="2865">&lt; 8</text><text class="r" x="378" y="2865">33 rows</text><text class="r" x="426" y="2865">1 &gt;</text></g>
<g id="StorageTechsCapacityCapitalCost"><rect class="b" x="217" y="2899" width="234" height="72"/><rect class="h" x="217" y="2899" width="234" height="24"/><path class="l" d="M217 2947h234M307 2947v24M390 2947v24"/><text class="c" x="334" y="2917">StorageTechsCapacityCapitalCost</text><text x="222" y="2941">...</text><text x="222" y="2965">&lt; 8</text><text class="r" x="385" y="2965">2 rows</text><text class="r" x="446" y="2965">1 &gt;</text></g>
<g id="DemandTechsCapitalCost"><rect class="b" x="243" y="2999" width="181" height="72"/><rect class="h" x="243" y="2999" width="181" height="24"/><path class="l" d="M243 3047h181M298 3047v24M382 3047v24"/><text class="c" x="333.5" y="3017">DemandTechsCapitalCost</text><text x="248" y="3041">...</text><text x="248" y="3065">&lt; 9</text><text class="r" x="377" y="3065">231 rows</text><text class="r" x="419" y="3065">1 &gt;</text></g>
<g id="GeographiesData"><rect class="b" x="260" y="3315" width="148" height="72"/><rect class="h" x="260" y="3315" width="148" height="24"/><path class="l" d="M260 3363h148M290 3363v24M371 3363v24"/><text class="c" x="334" y="3333">GeographiesData</text><text x="265" y="3357">...</text><text x="265" y="3381">&lt; 1</text><text class="r" x="366" y="3381">3,293 rows</text><text class="r" x="403" y="3381">62 &gt;</text></g>
<g id="FinalEnergy"><rect class="b" x="595" y="3319" width="128" height="72"/><rect class="h" x="595" y="3319" width="128" height="24"/><path class="l" d="M595 3367h128M624 3367v24M685 3367v24"/><text class="c" x="659" y="3337">FinalEnergy</text><text x="600" y="3361">...</text><text x="600" y="3385">&lt; 1</text><text class="r" x="680" y="3385">27 rows</text><text class="r" x="718" y="3385">11 &gt;</text></g>
<g id="Shapes"><rect class="b" x="269" y="3595" width="128" height="72"/><rect class="h" x="269" y="3595" width="128" height="24"/><path class="l" d="M269 3643h128M306 3643v24M367 3643v24"/><text class="c" x="333" y="3613">Shapes</text><text x="274" y="3637">...</text><text x="274" y="3661">&lt; 10</text><text class="r" x="362" y="3661">35 rows</text><text class="r" x="392" y="3661">5 &gt;</text></g>
<g id="DemandFuelSwitchingMeasures"><rect class="b" x="863" y="2716" width="220" height="288"/><rect class="h" x="863" y="2716" width="220" height="24"/><rect class="k" x="863" y="2740" width="220" height="24"/><path class="l" d="M863 2788h220M863 2812h220M863 2836h220M863 2860h220M863 2884h220M863 2908h220M863 2932h220M863 2956h220M863 2980h220M941 2980v24M1028 2980v24"/><text class="c" x="973" y="2734">DemandFuelSwitchingMeasures</text><text x="868" y="2758">id</text><text x="868" y="2782">name</text><text x="868" y="2806">subsector_id</text><text x="868" y="2830">final_energy_from_id</text><text x="868" y="2854">final_energy_to_id</text><text x="868" y="2878">stock_decay_function_id</text><text x="868" y="2902">max_lifetime</text><text x="868" y="2926">min_lifetime</text><text x="868" y="2950">mean_lifetime</text><text x="868" y="2974">lifetime_variance</text><text x="868" y="2998">&lt; 4</text><text class="r" x="1023" y="2998">30 rows</text><text class="r" x="1078" y="2998">7 &gt;</text></g>
<g id="SupplyExportData"><rect class="b" x="1600" y="2474" width="126" height="72"/><rect class="h" x="1600" y="2474" width="126" height="24"/><path class="l" d="M1600 2522h126M1634 2522v24M1706 2522v24"/><text class="c" x="1663" y="2492">SupplyExportData</text><text x="1605" y="2516">...</text><text x="1605" y="2540">&lt; 3</text><text class="r" x="1701" y="2540">592 rows</text></g>
<g id="SupplyEmissionsData"><rect class="b" x="1255" y="2543" width="153" height="72"/><rect class="h" x="1255" y="2543" width="153" height="24"/><path class="l" d="M1255 2591h153M1307 2591v24M1379 2591v24"/><text class="c" x="1331.5" y="2561">SupplyEmissionsData</text><text x="1260" y="2585">...</text><text x="1260" y="2609">&lt; 6</text><text class="r" x="1374" y="2609">57 rows</text></g>
<g id="SupplySalesMeasuresData"><rect class="b" x="1571" y="2594" width="186" height="72"/><rect class="h" x="1571" y="2594" width="186" height="24"/><path class="l" d="M1571 2642h186M1643 2642v24M1718 2642v24"/><text class="c" x="1664" y="2612">SupplySalesMeasuresData</text><text x="1576" y="2636">...</text><text x="1576" y="2660">&lt; 4</text><text class="r" x="1713" y="2660">0 rows</text></g>
<g id="SupplyStockMeasuresData"><rect class="b" x="1571" y="2694" width="186" height="72"/><rect class="h" x="1571" y="2694" width="186" height="24"/><path class="l" d="M1571 2742h186M1625 2742v24M1726 2742v24"/><text class="c" x="1664" y="2712">SupplyStockMeasuresData</text><text x="1576" y="2736">...</text><text x="1576" y="2760">&lt; 4</text><text class="r" x="1721" y="2760">20,101 rows</text></g>
<g id="DemandFuelSwitchingMeasurePackagesData"><rect class="b" x="1177" y="2715" width="309" height="72"/><rect class="h" x="1177" y="2715" width="309" height="24"/><path class="l" d="M1177 2763h309M1307 2763v24M1418 2763v24"/><text class="c" x="1331.5" y="2733">DemandFuelSwitchingMeasurePackagesData</text><text x="1182" y="2757">...</text><text x="1182" y="2781">&lt; 2</text><text class="r" x="1413" y="2781">33 rows</text></g>
<g id="SupplyCost"><rect class="b" x="1270" y="2999" width="120" height="72"/><rect class="h" x="1270" y="2999" width="120" height="24"/><path class="l" d="M1270 3047h120M1300 3047v24M1361 3047v24"/><text class="c" x="1330" y="3017">SupplyCost</text><text x="1275" y="3041">...</text><text x="1275" y="3065">&lt; 7</text><text class="r" x="1356" y="3065">11 rows</text><text class="r" x="1385" y="3065">1 &gt;</text></g>
<g id="DispatchNodeConfig"><rect class="b" x="1260" y="3099" width="142" height="72"/><rect class="h" x="1260" y="3099" width="142" height="24"/><path class="l" d="M1260 3147h142M1304 3147v24M1366 3147v24"/><text class="c" x="1331" y="3117">DispatchNodeConfig</text><text x="1265" y="3141">...</text><text x="1265" y="3165">&lt; 3</text><text class="r" x="1361" y="3165">5 rows</text><text class="r" x="1397" y="3165">1 &gt;</text></g>
<g id="ImportCost"><rect class="b" x="1270" y="3199" width="120" height="72"/><rect class="h" x="1270" y="3199" width="120" height="24"/><path class="l" d="M1270 3247h120M1300 3247v24M1361 3247v24"/><text class="c" x="1330" y="3217">ImportCost</text><text x="1275" y="3241">...</text><text x="1275" y="3265">&lt; 6</text><text class="r" x="1356" y="3265">13 rows</text><text class="r" x="1385" y="3265">1 &gt;</text></g>
<g id="DispatchConfig"><rect class="b" x="1276" y="3299" width="109" height="72"/><rect class="h" x="1276" y="3299" width="109" height="24"/><path class="l" d="M1276 3347h109M1313 3347v24M1363 3347v24"/><text class="c" x="1330.5" y="3317">DispatchConfig</text><text x="1281" y="3341">...</text><text x="1281" y="3365">&lt; 4</text><text class="r" x="1358" y="3365">1 row</text></g>
<g id="PrimaryCost"><rect class="b" x="1277" y="3399" width="108" height="72"/><rect class="h" x="1277" y="3399" width="108" height="24"/><path class="l" d="M1277 3447h108M1307 3447v24M1369 3447v24"/><text class="c" x="1331" y="3417">PrimaryCost</text><text x="1282" y="3441">...</text><text x="1282" y="3465">&lt; 7</text><text class="r" x="1364" y="3465">11 rows</text></g>
<g id="SupplyNodes"><rect class="b" x="904" y="3371" width="136" height="72"/><rect class="h" x="904" y="3371" width="136" height="24"/><path class="l" d="M904 3419h136M933 3419v24M1003 3419v24"/><text class="c" x="972" y="3389">SupplyNodes</text><text x="909" y="3413">...</text><text x="909" y="3437">&lt; 7</text><text class="r" x="998" y="3437">107 rows</text><text class="r" x="1035" y="3437">38 &gt;</text></g>
<g id="DemandFuelSwitchingMeasuresEnergyIntensity"><rect class="b" x="1172" y="3500" width="319" height="72"/><rect class="h" x="1172" y="3500" width="319" height="24"/><path class="l" d="M1172 3548h319M1307 3548v24M1420 3548v24"/><text class="c" x="1331.5" y="3518">DemandFuelSwitchingMeasuresEnergyIntensity</text><text x="1177" y="3542">...</text><text x="1177" y="3566">&lt; 6</text><text class="r" x="1415" y="3566">30 rows</text></g>
<g id="SupplyExport"><rect class="b" x="1270" y="3600" width="120" height="72"/><rect class="h" x="1270" y="3600" width="120" height="24"/><path class="l" d="M1270 3648h120M1300 3648v24M1361 3648v24"/><text class="c" x="1330" y="3618">SupplyExport</text><text x="1275" y="3642">...</text><text x="1275" y="3666">&lt; 5</text><text class="r" x="1356" y="3666">10 rows</text><text class="r" x="1385" y="3666">1 &gt;</text></g>
<g id="DemandTechsAuxEfficiency"><rect class="b" x="877" y="3579" width="193" height="72"/><rect class="h" x="877" y="3579" width="193" height="24"/><path class="l" d="M877 3627h193M956 3627v24M1030 3627v24"/><text class="c" x="973.5" y="3597">DemandTechsAuxEfficiency</text><text x="882" y="3621">...</text><text x="882" y="3645">&lt; 10</text><text class="r" x="1025" y="3645">6 rows</text></g>
<g id="DemandTechsMainEfficiency"><rect class="b" x="874" y="3680" width="198" height="72"/><rect class="h" x="874" y="3680" width="198" height="24"/><path class="l" d="M874 3728h198M941 3728v24M1027 3728v24"/><text class="c" x="973" y="3698">DemandTechsMainEfficiency</text><text x="879" y="3722">...</text><text x="879" y="3746">&lt; 11</text><text class="r" x="1022" y="3746">226 rows</text><text class="r" x="1067" y="3746">1 &gt;</text></g>
<g id="Geographies"><rect class="b" x="19" y="3826" width="116" height="96"/><rect class="h" x="19" y="3826" width="116" height="24"/><rect class="k" x="19" y="3850" width="116" height="24"/><rect class="y" x="19" y="3874" width="116" height="24"/><path class="l" d="M37 3898v24M98 3898v24"/><text class="c" x="77" y="3844">Geographies</text><text x="24" y="3868">id</text><text x="24" y="3892">name</text><text class="r" x="93" y="3916">12 rows</text><text class="r" x="130" y="3916">54 &gt;</text></g>
<g id="DemandSubsectors"><rect class="b" x="590" y="3739" width="139" height="72"/><rect class="h" x="590" y="3739" width="139" height="24"/><path class="l" d="M590 3787h139M624 3787v24M688 3787v24"/><text class="c" x="659.5" y="3757">DemandSubsectors</text><text x="595" y="3781">...</text><text x="595" y="3805">&lt; 2</text><text class="r" x="683" y="3805">63 rows</text><text class="r" x="724" y="3805">24 &gt;</text></g>
<g id="DemandServiceEfficiency"><rect class="b" x="884" y="3779" width="177" height="72"/><rect class="h" x="884" y="3779" width="177" height="24"/><path class="l" d="M884 3827h177M952 3827v24M1025 3827v24"/><text class="c" x="972.5" y="3797">DemandServiceEfficiency</text><text x="889" y="3821">...</text><text x="889" y="3845">&lt; 7</text><text class="r" x="1020" y="3845">3 rows</text></g>
<g id="DemandFlexibleLoadMeasures"><rect class="b" x="868" y="3879" width="209" height="72"/><rect class="h" x="868" y="3879" width="209" height="24"/><path class="l" d="M868 3927h209M945 3927v24M1022 3927v24"/><text class="c" x="972.5" y="3897">DemandFlexibleLoadMeasures</text><text x="873" y="3921">...</text><text x="873" y="3945">&lt; 5</text><text class="r" x="1017" y="3945">9 rows</text><text class="r" x="1072" y="3945">2 &gt;</text></g>
<g id="DemandSales"><rect class="b" x="912" y="3979" width="120" height="72"/><rect class="h" x="912" y="3979" width="120" height="24"/><path class="l" d="M912 4027h120M941 4027v24M1003 4027v24"/><text class="c" x="972" y="3997">DemandSales</text><text x="917" y="4021">...</text><text x="917" y="4045">&lt; 7</text><text class="r" x="998" y="4045">10 rows</text><text class="r" x="1027" y="4045">1 &gt;</text></g>
<g id="DemandSalesMeasures"><rect class="b" x="889" y="4079" width="166" height="72"/><rect class="h" x="889" y="4079" width="166" height="24"/><path class="l" d="M889 4127h166M937 4127v24M1016 4127v24"/><text class="c" x="972" y="4097">DemandSalesMeasures</text><text x="894" y="4121">...</text><text x="894" y="4145">&lt; 8</text><text class="r" x="1011" y="4145">357 rows</text><text class="r" x="1050" y="4145">2 &gt;</text></g>
<g id="SupplyPotentialConversion"><rect class="b" x="1240" y="4184" width="183" height="72"/><rect class="h" x="1240" y="4184" width="183" height="24"/><path class="l" d="M1240 4232h183M1304 4232v24M1375 4232v24"/><text class="c" x="1331.5" y="4202">SupplyPotentialConversion</text><text x="1245" y="4226">...</text><text x="1245" y="4250">&lt; 5</text><text class="r" x="1370" y="4250">7 rows</text><text class="r" x="1418" y="4250">1 &gt;</text></g>
<g id="DemandEnergyDemands"><rect class="b" x="885" y="4250" width="175" height="72"/><rect class="h" x="885" y="4250" width="175" height="24"/><path class="l" d="M885 4298h175M945 4298v24M1019 4298v24"/><text class="c" x="972.5" y="4268">DemandEnergyDemands</text><text x="890" y="4292">...</text><text x="890" y="4316">&lt; 12</text><text class="r" x="1014" y="4316">47 rows</text><text class="r" x="1055" y="4316">1 &gt;</text></g>
<g id="DemandTechsParasiticEnergy"><rect class="b" x="230" y="4308" width="209" height="72"/><rect class="h" x="230" y="4308" width="209" height="24"/><path class="l" d="M230 4356h209M313 4356v24M394 4356v24"/><text class="c" x="334.5" y="4326">DemandTechsParasiticEnergy</text><text x="235" y="4350">...</text><text x="235" y="4374">&lt; 8</text><text class="r" x="389" y="4374">6 rows</text></g>
<g id="DemandDrivers"><rect class="b" x="595" y="4320" width="128" height="72"/><rect class="h" x="595" y="4320" width="128" height="24"/><path class="l" d="M595 4368h128M624 4368v24M685 4368v24"/><text class="c" x="659" y="4338">DemandDrivers</text><text x="600" y="4362">...</text><text x="600" y="4386">&lt; 8</text><text class="r" x="680" y="4386">60 rows</text><text class="r" x="718" y="4386">14 &gt;</text></g>
<g id="DemandStock"><rect class="b" x="908" y="4351" width="128" height="72"/><rect class="h" x="908" y="4351" width="128" height="24"/><path class="l" d="M908 4399h128M945 4399v24M1006 4399v24"/><text class="c" x="972" y="4369">DemandStock</text><text x="913" y="4393">...</text><text x="913" y="4417">&lt; 13</text><text class="r" x="1001" y="4417">24 rows</text><text class="r" x="1031" y="4417">1 &gt;</text></g>
<g id="DemandTechsServiceDemandModifier"><rect class="b" x="203" y="4444" width="261" height="72"/><rect class="h" x="203" y="4444" width="261" height="24"/><path class="l" d="M203 4492h261M308 4492v24M408 4492v24"/><text class="c" x="333.5" y="4462">DemandTechsServiceDemandModifier</text><text x="208" y="4486">...</text><text x="208" y="4510">&lt; 7</text><text class="r" x="403" y="4510">19 rows</text></g>
<g id="DemandServiceDemands"><rect class="b" x="884" y="4451" width="177" height="72"/><rect class="h" x="884" y="4451" width="177" height="24"/><path class="l" d="M884 4499h177M945 4499v24M1019 4499v24"/><text class="c" x="972.5" y="4469">DemandServiceDemands</text><text x="889" y="4493">...</text><text x="889" y="4517">&lt; 12</text><text class="r" x="1014" y="4517">17 rows</text><text class="r" x="1056" y="4517">1 &gt;</text></g>
<g id="DemandStockMeasures"><rect class="b" x="889" y="4551" width="166" height="72"/><rect class="h" x="889" y="4551" width="166" height="24"/><path class="l" d="M889 4599h166M945 4599v24M1013 4599v24"/><text class="c" x="972" y="4569">DemandStockMeasures</text><text x="894" y="4593">...</text><text x="894" y="4617">&lt; 6</text><text class="r" x="1008" y="4617">5 rows</text><text class="r" x="1050" y="4617">2 &gt;</text></g>
<g id="DemandFuelSwitchingMeasuresImpact"><rect class="b" x="1199" y="4540" width="264" height="72"/><rect class="h" x="1199" y="4540" width="264" height="24"/><path class="l" d="M1199 4588h264M1305 4588v24M1405 4588v24"/><text class="c" x="1331" y="4558">DemandFuelSwitchingMeasuresImpact</text><text x="1204" y="4582">...</text><text x="1204" y="4606">&lt; 7</text><text class="r" x="1400" y="4606">30 rows</text></g>
<g id="DemandTechsServiceLink"><rect class="b" x="243" y="4687" width="181" height="72"/><rect class="h" x="243" y="4687" width="181" height="24"/><path class="l" d="M243 4735h181M302 4735v24M379 4735v24"/><text class="c" x="333.5" y="4705">DemandTechsServiceLink</text><text x="248" y="4729">...</text><text x="248" y="4753">&lt; 9</text><text class="r" x="374" y="4753">40 rows</text><text class="r" x="419" y="4753">1 &gt;</text></g>
<g id="SupplyTechsCapacityFactor"><rect class="b" x="237" y="5003" width="194" height="72"/><rect class="h" x="237" y="5003" width="194" height="24"/><path class="l" d="M237 5051h194M302 5051v24M383 5051v24"/><text class="c" x="334" y="5021">SupplyTechsCapacityFactor</text><text x="242" y="5045">...</text><text x="242" y="5069">&lt; 7</text><text class="r" x="378" y="5069">52 rows</text><text class="r" x="426" y="5069">1 &gt;</text></g>
<g id="SupplyTechsCO2Capture"><rect class="b" x="571" y="5268" width="177" height="72"/><rect class="h" x="571" y="5268" width="177" height="24"/><path class="l" d="M571 5316h177M628 5316v24M704 5316v24"/><text class="c" x="659.5" y="5286">SupplyTechsCO2Capture</text><text x="576" y="5310">...</text><text x="576" y="5334">&lt; 7</text><text class="r" x="699" y="5334">28 rows</text><text class="r" x="743" y="5334">1 &gt;</text></g>
<g id="SupplyTechsEfficiency"><rect class="b" x="580" y="5367" width="158" height="72"/><rect class="h" x="580" y="5367" width="158" height="24"/><path class="l" d="M580 5415h158M624 5415v24M700 5415v24"/><text class="c" x="659" y="5385">SupplyTechsEfficiency</text><text x="585" y="5409">...</text><text x="585" y="5433">&lt; 7</text><text class="r" x="695" y="5433">113 rows</text><text class="r" x="733" y="5433">1 &gt;</text></g>
<g id="CleaningMethods"><rect class="b" x="17" y="5730" width="121" height="96"/><rect class="h" x="17" y="5730" width="121" height="24"/><rect class="k" x="17" y="5754" width="121" height="24"/><rect class="y" x="17" y="5778" width="121" height="24"/><path class="l" d="M37 5802v24M91 5802v24"/><text class="c" x="77.5" y="5748">CleaningMethods</text><text x="22" y="5772">id</text><text x="22" y="5796">name</text><text class="r" x="86" y="5820">8 rows</text><text class="r" x="133" y="5820">108 &gt;</text></g>
<g id="SupplySalesShareMeasures"><rect class="b" x="1235" y="5203" width="193" height="72"/><rect class="h" x="1235" y="5203" width="193" height="24"/><path class="l" d="M1235 5251h193M1300 5251v24M1380 5251v24"/><text class="c" x="1331.5" y="5221">SupplySalesShareMeasures</text><text x="1240" y="5245">...</text><text x="1240" y="5269">&lt; 7</text><text class="r" x="1375" y="5269">18 rows</text><text class="r" x="1423" y="5269">2 &gt;</text></g>
<g id="SupplySalesMeasures"><rect class="b" x="1255" y="5303" width="153" height="72"/><rect class="h" x="1255" y="5303" width="153" height="24"/><path class="l" d="M1255 5351h153M1308 5351v24M1366 5351v24"/><text class="c" x="1331.5" y="5321">SupplySalesMeasures</text><text x="1260" y="5345">...</text><text x="1260" y="5369">&lt; 7</text><text class="r" x="1361" y="5369">1 row</text><text class="r" x="1403" y="5369">1 &gt;</text></g>
<g id="SupplyPotential"><rect class="b" x="1270" y="5403" width="120" height="72"/><rect class="h" x="1270" y="5403" width="120" height="24"/><path class="l" d="M1270 5451h120M1300 5451v24M1361 5451v24"/><text class="c" x="1330" y="5421">SupplyPotential</text><text x="1275" y="5445">...</text><text x="1275" y="5469">&lt; 6</text><text class="r" x="1356" y="5469">14 rows</text><text class="r" x="1385" y="5469">1 &gt;</text></g>
<g id="BlendNodeBlendMeasures"><rect class="b" x="1240" y="5503" width="181" height="72"/><rect class="h" x="1240" y="5503" width="181" height="24"/><path class="l" d="M1240 5551h181M1300 5551v24M1375 5551v24"/><text class="c" x="1330.5" y="5521">BlendNodeBlendMeasures</text><text x="1245" y="5545">...</text><text x="1245" y="5569">&lt; 6</text><text class="r" x="1370" y="5569">74 rows</text><text class="r" x="1416" y="5569">2 &gt;</text></g>
<g id="SupplyStock"><rect class="b" x="1277" y="5603" width="108" height="72"/><rect class="h" x="1277" y="5603" width="108" height="24"/><path class="l" d="M1277 5651h108M1307 5651v24M1369 5651v24"/><text class="c" x="1331" y="5621">SupplyStock</text><text x="1282" y="5645">...</text><text x="1282" y="5669">&lt; 5</text><text class="r" x="1364" y="5669">23 rows</text></g>
<g id="SupplyExportMeasures"><rect class="b" x="1252" y="5703" width="158" height="72"/><rect class="h" x="1252" y="5703" width="158" height="24"/><path class="l" d="M1252 5751h158M1304 5751v24M1370 5751v24"/><text class="c" x="1331" y="5721">SupplyExportMeasures</text><text x="1257" y="5745">...</text><text x="1257" y="5769">&lt; 5</text><text class="r" x="1365" y="5769">5 rows</text><text class="r" x="1405" y="5769">2 &gt;</text></g>
<g id="SupplyCapacityFactor"><rect class="b" x="1255" y="5803" width="151" height="72"/><rect class="h" x="1255" y="5803" width="151" height="24"/><path class="l" d="M1255 5851h151M1304 5851v24M1367 5851v24"/><text class="c" x="1330.5" y="5821">SupplyCapacityFactor</text><text x="1260" y="5845">...</text><text x="1260" y="5869">&lt; 4</text><text class="r" x="1362" y="5869">2 rows</text><text class="r" x="1401" y="5869">1 &gt;</text></g>
<g id="SupplyStockMeasures"><rect class="b" x="1255" y="5903" width="153" height="72"/><rect class="h" x="1255" y="5903" width="153" height="24"/><path class="l" d="M1255 5951h153M1300 5951v24M1370 5951v24"/><text class="c" x="1331.5" y="5921">SupplyStockMeasures</text><text x="1260" y="5945">...</text><text x="1260" y="5969">&lt; 7</text><text class="r" x="1365" y="5969">60 rows</text><text class="r" x="1403" y="5969">2 &gt;</text></g>
<g id="SupplySales"><rect class="b" x="1270" y="6125" width="120" height="72"/><rect class="h" x="1270" y="6125" width="120" height="24"/><path class="l" d="M1270 6173h120M1300 6173v24M1361 6173v24"/><text class="c" x="1330" y="6143">SupplySales</text><text x="1275" y="6167">...</text><text x="1275" y="6191">&lt; 5</text><text class="r" x="1356" y="6191">17 rows</text><text class="r" x="1385" y="6191">1 &gt;</text></g>
<g id="SupplyEfficiency"><rect class="b" x="1270" y="6722" width="120" height="72"/><rect class="h" x="1270" y="6722" width="120" height="24"/><path class="l" d="M1270 6770h120M1300 6770v24M1361 6770v24"/><text class="c" x="1330" y="6740">SupplyEfficiency</text><text x="1275" y="6764">...</text><text x="1275" y="6788">&lt; 4</text><text class="r" x="1356" y="6788">29 rows</text><text class="r" x="1385" y="6788">1 &gt;</text></g>
<g id="SupplyEmissions"><rect class="b" x="1270" y="6823" width="122" height="72"/><rect class="h" x="1270" y="6823" width="122" height="24"/><path class="l" d="M1270 6871h122M1307 6871v24M1371 6871v24"/><text class="c" x="1331" y="6841">SupplyEmissions</text><text x="1275" y="6865">...</text><text x="1275" y="6889">&lt; 4</text><text class="r" x="1366" y="6889">27 rows</text></g>
<g id="SupplySalesShare"><rect class="b" x="1267" y="7175" width="129" height="72"/><rect class="h" x="1267" y="7175" width="129" height="24"/><path class="l" d="M1267 7223h129M1307 7223v24M1373 7223v24"/><text class="c" x="1331.5" y="7193">SupplySalesShare</text><text x="1272" y="7217">...</text><text x="1272" y="7241">&lt; 4</text><text class="r" x="1368" y="7241">13 rows</text></g>
<g id="DispatchFeedersAllocation"><rect class="b" x="243" y="7047" width="182" height="72"/><rect class="h" x="243" y="7047" width="182" height="24"/><path class="l" d="M243 7095h182M317 7095v24M385 7095v24"/><text class="c" x="334" y="7065">DispatchFeedersAllocation</text><text x="248" y="7089">...</text><text x="248" y="7113">&lt; 2</text><text class="r" x="380" y="7113">1 row</text></g>
</g>
<text x="16" y="7373">Generated by SchemaSpy</text>
</g>
</svg>
